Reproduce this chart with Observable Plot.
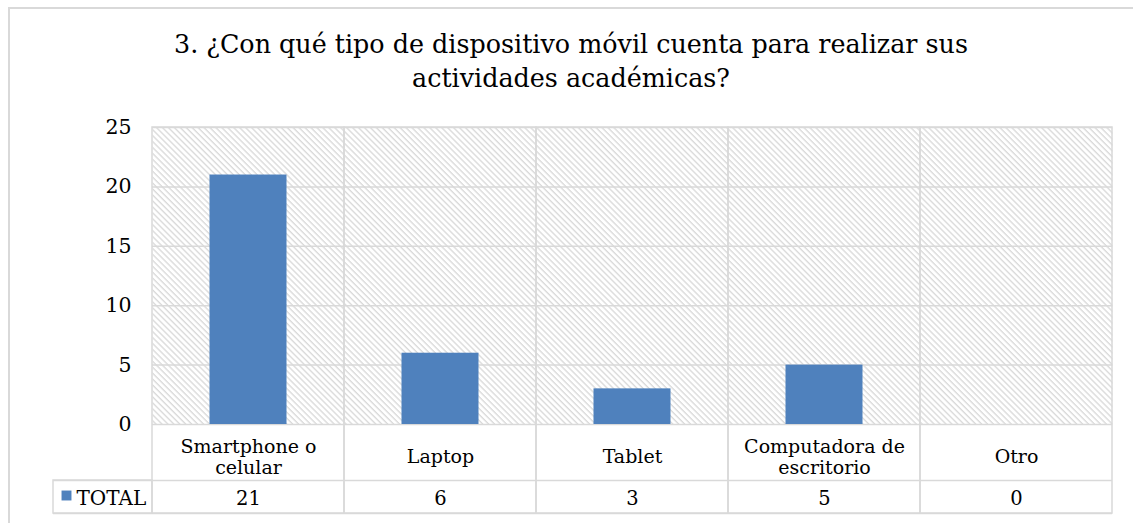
<!DOCTYPE html>
<html><head><meta charset="utf-8">
<script src="https://cdn.jsdelivr.net/npm/d3@7"></script>
<script src="https://cdn.jsdelivr.net/npm/@observablehq/plot@0.6"></script>
<style>
body{margin:0;width:1133px;height:523px;overflow:hidden;background:#fff;position:relative;font-family:"DejaVu Serif",serif;}
#frame{position:absolute;left:8px;top:7px;width:1150px;height:540px;border:2px solid #d9d9d9;box-sizing:border-box;}
#title{position:absolute;left:0;width:1142px;top:27px;text-align:center;font-size:25.4px;line-height:34px;color:#000;}
#chart{position:absolute;left:0;top:115px;}
</style></head><body>
<div id="frame"></div>
<div id="title">3. ¿Con qué tipo de dispositivo móvil cuenta para realizar sus<br>actividades académicas?</div>
<div id="chart"></div>
<script>
const categories = ["Smartphone o\ncelular", "Laptop", "Tablet", "Computadora de\nescritorio", "Otro"];
const totals = [21, 6, 3, 5, 0];
const yTicks = [0, 5, 10, 15, 20, 25];
const seriesName = "TOTAL";

const data = categories.map((c, i) => ({category: c, value: totals[i]}));
const grid = "#d9d9d9";

const plot = Plot.plot({
  width: 1133, height: 408,
  marginTop: 12, marginBottom: 99, marginLeft: 152, marginRight: 21,
  style: {fontFamily: "DejaVu Serif", fontSize: "19px", color: "#000", background: "transparent", overflow: "visible"},
  x: {type: "band", domain: categories, padding: 0, axis: null},
  y: {domain: [0, 25], axis: null},
  marks: [
    Plot.frame({fill: "url(#hatch)", stroke: null}),
    Plot.ruleY(yTicks, {stroke: grid, strokeWidth: 1.5}),
    Plot.barY(categories, {x: d => d, y1: 0, y2: 25, fill: "none", stroke: grid, strokeWidth: 1.5, insetBottom: -89}),
    Plot.barY(data, {x: "category", y: "value", fill: "#4f81bd", insetLeft: 57.5, insetRight: 57.5}),
    Plot.ruleY([0], {dy: 56, insetLeft: -99, stroke: grid, strokeWidth: 1.5}),
    Plot.ruleY([0], {dy: 89, insetLeft: -99, stroke: grid, strokeWidth: 1.5}),
    Plot.barY([categories[0]], {x: d => d, y1: 0, y2: 0, insetTop: 56, insetBottom: -89, insetLeft: -99, insetRight: 192, fill: "none", stroke: grid, strokeWidth: 1.5}),
    Plot.axisY({ticks: yTicks, tickSize: 0, tickPadding: 21, label: null, fontSize: 20.5}),
    Plot.text(data, {x: "category", text: "category", frameAnchor: "bottom", lineAnchor: "middle", dy: 32, lineHeight: 1.12, fontSize: 19}),
    Plot.text(data, {x: "category", text: d => String(d.value), frameAnchor: "bottom", lineAnchor: "middle", dy: 74, fontSize: 19.5}),
    Plot.dot([seriesName], {x: () => categories[0], frameAnchor: "bottom", dy: 71, dx: -182, symbol: "square", r: 5.6, fill: "#4f81bd", stroke: null}),
    Plot.text([seriesName], {x: () => categories[0], text: d => d, frameAnchor: "bottom", lineAnchor: "middle", dy: 74, dx: -172, textAnchor: "start", fontSize: 20})
  ]
});

const ns = "http://www.w3.org/2000/svg";
const defs = document.createElementNS(ns, "defs");
defs.innerHTML = '<pattern id="hatch" patternUnits="userSpaceOnUse" width="4.2" height="4.2" patternTransform="rotate(-45)"><rect width="4.2" height="4.2" fill="#ffffff"/><line x1="1" y1="0" x2="1" y2="4.2" stroke="#dadada" stroke-width="1.4"/></pattern>';
plot.prepend(defs);
document.getElementById("chart").appendChild(plot);
</script>
</body></html>
